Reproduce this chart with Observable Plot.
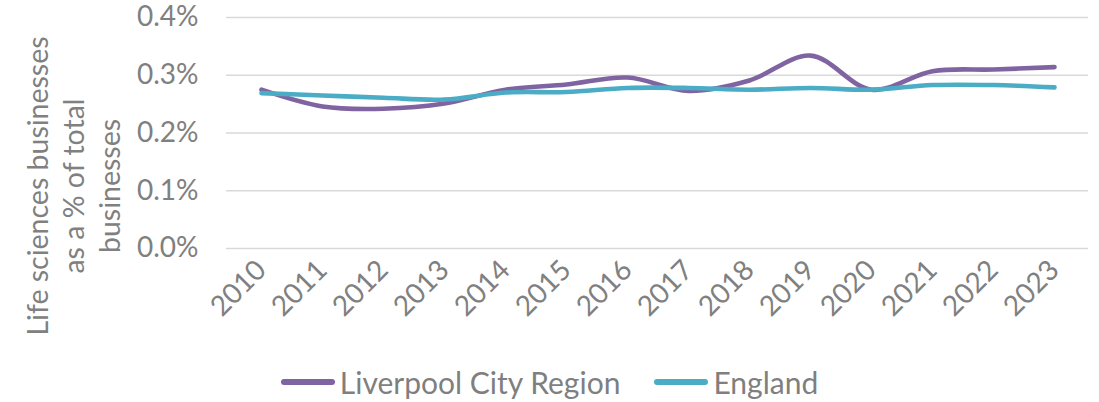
<!DOCTYPE html>
<html>
<head>
<meta charset="utf-8">
<script src="https://cdn.jsdelivr.net/npm/d3@7"></script>
<script src="https://cdn.jsdelivr.net/npm/@observablehq/plot@0.6"></script>
<style>
  html, body { margin: 0; padding: 0; background: #fff; }
  body { width: 1099px; height: 402px; overflow: hidden; font-family: Lato, "Open Sans", sans-serif; }
  #chart svg { overflow: visible; }
  #legend { display: flex; justify-content: center; align-items: center; margin-top: 22px; height: 30px; font-size: 30px; color: #7f7f7f; }
  .item { display: flex; align-items: center; margin: 0 17px; }
  .sw { width: 54px; height: 6px; border-radius: 3px; margin-right: 5px; }
</style>
</head>
<body>
<div id="chart"></div>
<div id="legend"></div>
<script>
const years = ["2010","2011","2012","2013","2014","2015","2016","2017","2018","2019","2020","2021","2022","2023"];
const liverpool = [0.275, 0.246, 0.242, 0.251, 0.275, 0.284, 0.296, 0.273, 0.291, 0.334, 0.275, 0.307, 0.310, 0.314];
const england   = [0.269, 0.265, 0.261, 0.258, 0.270, 0.271, 0.278, 0.278, 0.275, 0.278, 0.275, 0.283, 0.283, 0.279];
const seriesNames = ["Liverpool City Region", "England"];
const seriesColors = ["#8064a2", "#4bacc6"];
const yTicks = [0, 0.1, 0.2, 0.3, 0.4];
const yTitle = "Life sciences businesses\nas a % of total\nbusinesses";

const rows = [];
years.forEach((y, i) => {
  rows.push({year: y, value: liverpool[i] / 100, series: seriesNames[0]});
  rows.push({year: y, value: england[i] / 100, series: seriesNames[1]});
});

const grey = "#808080";
const chart = Plot.plot({
  width: 1099,
  height: 345,
  marginTop: 17,
  marginBottom: 97,
  marginLeft: 226,
  marginRight: 11,
  style: {fontFamily: "Lato, 'Open Sans', sans-serif", fontSize: "28px", color: grey, background: "#fff", overflow: "visible"},
  x: {type: "point", domain: years, padding: 0.5, label: null},
  y: {domain: [0, 0.004], label: null},
  color: {domain: seriesNames, range: seriesColors},
  marks: [
    Plot.ruleY(yTicks.map(d => d / 100), {stroke: "#d9d9d9", strokeWidth: 1.5}),
    Plot.axisY({ticks: yTicks.map(d => d / 100), tickFormat: d3.format(".1%"), tickSize: 0, tickPadding: 28, fontSize: 28, label: null, fill: grey}),
    Plot.axisX({tickRotate: -45, tickSize: 0, tickPadding: 17, fontSize: 28, label: null, fill: grey}),
    Plot.line(rows, {x: "year", y: "value", z: "series", stroke: "series", strokeWidth: 4.6, curve: "catmull-rom", strokeLinecap: "round", strokeLinejoin: "round"}),
    Plot.text([yTitle], {text: d => d, frameAnchor: "left", rotate: -90, dx: -154, dy: 53, lineHeight: 1.25, fontSize: 28.5, fill: grey, textAnchor: "middle"})
  ]
});
document.getElementById("chart").appendChild(chart);

const legend = document.getElementById("legend");
seriesNames.forEach((name, i) => {
  const item = document.createElement("div");
  item.className = "item";
  const sw = document.createElement("div");
  sw.className = "sw";
  sw.style.background = seriesColors[i];
  const t = document.createElement("span");
  t.textContent = name;
  item.appendChild(sw);
  item.appendChild(t);
  legend.appendChild(item);
});
</script>
</body>
</html>
